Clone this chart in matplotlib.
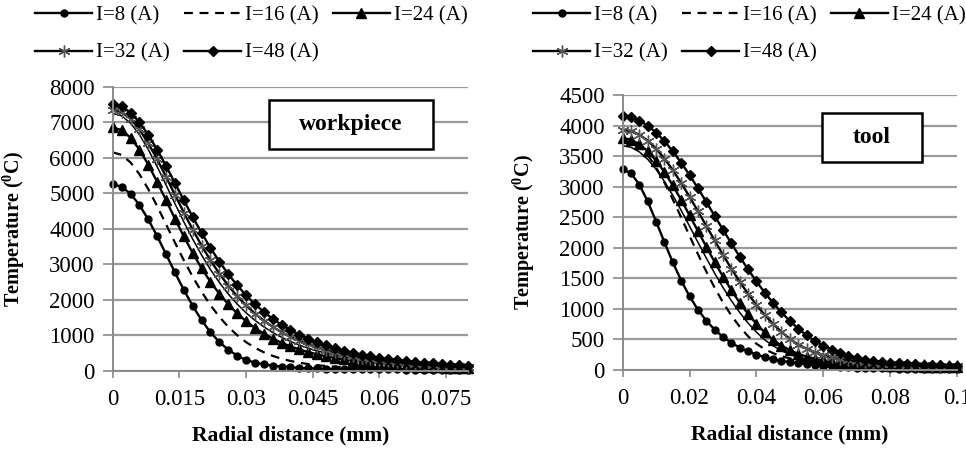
import numpy as np
import matplotlib
matplotlib.use("Agg")
import matplotlib.pyplot as plt
from matplotlib.patches import Rectangle

plt.rcParams['font.family'] = ['Liberation Serif', 'DejaVu Serif']
plt.rcParams['mathtext.fontset'] = 'custom'
plt.rcParams['mathtext.rm'] = 'Liberation Serif'
plt.rcParams['mathtext.bf'] = 'Liberation Serif:bold'

# ---------------- data ----------------
x_left = np.linspace(0, 0.08, 41)      # radial distance (mm), workpiece
x_right = np.linspace(0, 0.1, 41)      # radial distance (mm), tool

labels = ["I=8 (A)", "I=16 (A)", "I=24 (A)", "I=32 (A)", "I=48 (A)"]

wp_I8 = [5250,5182,4983,4668,4259,3788,3281,2768,2276,1823,1423,1081,805,590,425,300,230,180,140,115,95,80,70,62,56,52,48,45,42,40,38,36,34,33,32,31,30,29,28,27,26]
wp_I16 = [6150,6078,5866,5536,5115,4634,4123,3608,3110,2645,2221,1844,1516,1235,1000,805,646,518,417,336,274,224,186,155,131,112,97,85,74,66,58,52,46,42,38,35,32,29,27,25,23]
wp_I24 = [6850,6777,6563,6229,5803,5316,4800,4281,3781,3313,2886,2503,2165,1870,1615,1394,1205,1043,905,786,685,598,524,460,405,357,316,281,250,223,199,178,160,144,130,118,107,97,88,81,74]
wp_extra = [7250,7179,6973,6648,6229,5748,5231,4705,4191,3705,3255,2847,2482,2159,1877,1631,1418,1235,1076,940,822,721,633,558,492,436,387,344,307,274,246,221,199,179,162,147,133,121,110,101,92]
wp_I32 = [7350,7285,7096,6796,6406,5953,5462,4956,4455,3974,3523,3108,2733,2397,2099,1838,1608,1408,1235,1084,953,839,740,655,580,515,458,409,365,327,294,265,239,216,195,177,161,146,134,122,112]
wp_I48 = [7500,7442,7271,6999,6644,6225,5765,5284,4800,4328,3878,3458,3072,2721,2406,2124,1875,1655,1461,1291,1142,1012,898,798,710,633,566,507,454,408,368,332,300,272,247,224,204,186,170,156,143]

tl_I8 = [3285,3219,3033,2758,2430,2089,1761,1464,1206,988,808,661,541,445,367,304,253,212,178,151,128,109,94,81,70,61,53,46,41,36,32,28,25,23,20,18,16,15,13,12,11]
tl_I16 = [3800,3768,3672,3518,3313,3067,2791,2496,2195,1898,1612,1347,1106,892,708,552,430,340,275,225,190,162,140,123,110,99,90,82,75,70,65,61,57,54,51,48,46,44,42,40,38]
tl_extra = [3670,3645,3569,3448,3284,3085,2858,2612,2353,2091,1833,1584,1350,1135,941,769,620,493,395,315,255,210,175,148,128,112,100,90,82,75,70,65,61,57,54,51,49,47,45,43,41]
tl_I24 = [3790,3766,3696,3581,3427,3238,3021,2783,2532,2275,2019,1768,1530,1307,1102,918,755,614,492,400,325,265,220,185,158,137,120,107,97,89,82,76,71,67,63,60,57,54,52,50,48]
tl_I32 = [3930,3910,3851,3754,3622,3459,3271,3061,2835,2600,2360,2120,1885,1659,1446,1247,1065,900,753,623,511,414,350,290,245,210,180,158,140,126,115,106,98,92,86,81,77,73,70,67,64]
tl_I48 = [4150,4133,4082,3999,3886,3745,3579,3393,3191,2975,2752,2524,2297,2072,1855,1646,1450,1266,1096,942,802,678,568,472,400,335,280,235,200,172,150,132,118,107,98,91,85,80,75,71,67]

left_xticks = [0, 0.015, 0.03, 0.045, 0.06, 0.075]
left_xticklabels = ["0", "0.015", "0.03", "0.045", "0.06", "0.075"]
right_xticks = [0, 0.02, 0.04, 0.06, 0.08, 0.1]
right_xticklabels = ["0", "0.02", "0.04", "0.06", "0.08", "0.1"]
left_yticks = list(range(0, 8001, 1000))
right_yticks = list(range(0, 4501, 500))

# ---------------- styles ----------------
st8 = dict(color='black', lw=1.7, marker='o', ms=5, mfc='black', mec='black')
st16 = dict(color='black', lw=1.6, ls=(0, (4, 3)))
st24 = dict(color='black', lw=1.7, marker='^', ms=6.5, mfc='black', mec='black')
stx = dict(color='black', lw=1.1)
st32 = dict(color='black', lw=1.7, marker=(6, 2, 0), ms=8.5, mec='#555555', mew=1.0)
st48 = dict(color='black', lw=1.7, marker='D', ms=5, mfc='black', mec='black')

fig = plt.figure(figsize=(9.66, 4.53), dpi=100)
axL = fig.add_axes([0.1167, 0.1817, 0.368, 0.627])
axR = fig.add_axes([0.6446, 0.1832, 0.3461, 0.607])

def style_axes(ax, xlim, ylim, xticks, xtl, yticks, ylab_x):
    ax.set_xlim(*xlim)
    ax.set_ylim(*ylim)
    ax.set_xticks(xticks)
    ax.set_xticklabels(xtl)
    ax.set_yticks(yticks)
    ax.set_yticklabels([str(v) for v in yticks])
    ax.yaxis.grid(True, color='#9a9a9a', lw=1.6)
    ax.set_axisbelow(True)
    for s in ['top', 'right']:
        ax.spines[s].set_visible(False)
    for s in ['left', 'bottom']:
        ax.spines[s].set_color('#8a8a8a')
        ax.spines[s].set_linewidth(1.4)
    ax.tick_params(axis='y', length=7, width=1.4, color='#9a9a9a', labelsize=16.5, pad=6)
    ax.tick_params(axis='x', length=5, width=1.2, color='#8a8a8a', labelsize=16.5, pad=8)
    ax.set_xlabel("Radial distance (mm)", fontsize=15.5, fontweight='bold', labelpad=11)
    ax.set_ylabel(r"Temperature ($^{\mathbf{0}}$C)", fontsize=14.5, fontweight='bold')
    ax.yaxis.set_label_coords(ylab_x, 0.5)

def draw(ax, x, s8, s16, s24, sx, s32, s48):
    h8, = ax.plot(x, s8, clip_on=False, **st8)
    h16, = ax.plot(x, s16, clip_on=False, **st16)
    h24, = ax.plot(x, s24, clip_on=False, **st24)
    ax.plot(x, sx, clip_on=False, **stx)
    h32, = ax.plot(x, s32, clip_on=False, **st32)
    h48, = ax.plot(x, s48, clip_on=False, **st48)
    return [h8, h16, h24, h32, h48]

hL = draw(axL, x_left, wp_I8, wp_I16, wp_I24, wp_extra, wp_I32, wp_I48)
hR = draw(axR, x_right, tl_I8, tl_I16, tl_I24, tl_extra, tl_I32, tl_I48)

style_axes(axL, (0, 0.08), (0, 8000), left_xticks, left_xticklabels, left_yticks, -0.240)
style_axes(axR, (0, 0.1), (0, 4500), right_xticks, right_xticklabels, right_yticks, -0.256)

def label_box(ax, x0, y0, w, h, text):
    ax.add_patch(Rectangle((x0, y0), w, h, transform=ax.transAxes, facecolor='white',
                           edgecolor='black', lw=1.8, zorder=5))
    ax.text(x0 + w / 2, y0 + h / 2, text, transform=ax.transAxes, ha='center', va='center',
            fontsize=17, fontweight='bold', zorder=6)

label_box(axL, 0.44, 0.781, 0.461, 0.172, "workpiece")
label_box(axR, 0.595, 0.757, 0.299, 0.176, "tool")

# row-wise legend order: I=8, I=16, I=24 / I=32, I=48
order = [0, 3, 1, 4, 2]
leg_kw = dict(ncol=3, loc='upper left', frameon=False, fontsize=15, numpoints=1,
              handlelength=2.74, handletextpad=0.2, columnspacing=0.67, labelspacing=0.85,
              borderaxespad=0, borderpad=0)
fig.legend([hL[i] for i in order], [labels[i] for i in order],
           bbox_to_anchor=(35 / 966, 1 - 6 / 453), **leg_kw)
fig.legend([hR[i] for i in order], [labels[i] for i in order],
           bbox_to_anchor=(533 / 966, 1 - 6 / 453), **leg_kw)

fig.savefig("out.png", dpi=100)
